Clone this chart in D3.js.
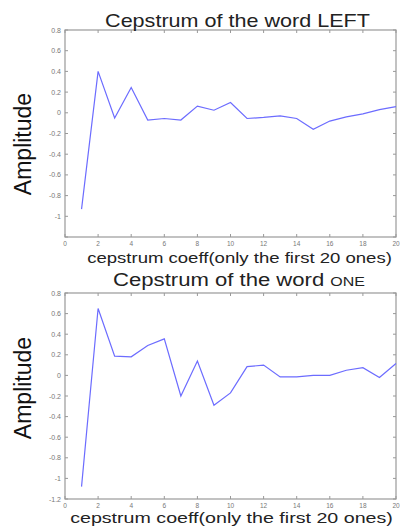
<html>
<script src="https://d3js.org/d3.v7.min.js"></script>
<style>
body { margin: 0; background: white; }
text { font-family: 'Liberation Sans', Arial, sans-serif; }
</style>
<body>
<svg width="401" height="526"></svg>
<script>
// cepstrum coefficients 1..20
const coeffs = d3.range(1, 21);
const leftValues = [-0.93, 0.40, -0.05, 0.245, -0.07, -0.055, -0.07, 0.065, 0.025, 0.10,
                    -0.055, -0.045, -0.03, -0.055, -0.16, -0.08, -0.04, -0.01, 0.03, 0.06];
const oneValues = [-1.08, 0.65, 0.187, 0.18, 0.29, 0.355, -0.20, 0.14, -0.29, -0.17,
                   0.085, 0.10, -0.015, -0.015, 0.0, 0.0, 0.05, 0.075, -0.02, 0.115];
const xTicks = d3.range(0, 21, 2);
const yTicks = [0.8, 0.6, 0.4, 0.2, 0, -0.2, -0.4, -0.6, -0.8, -1, -1.2];

const svg = d3.select("svg");

// stretch a text horizontally so it spans a given width around cx
function fitWidth(sel, cx, baseline, width) {
  const w = sel.node().getComputedTextLength();
  sel.attr("x", 0).attr("y", 0)
    .attr("transform", `translate(${cx},${baseline}) scale(${width / w},1)`);
}

function panel(top, bottom, values, word, opt) {
  const left = 65, right = 396;
  const x = d3.scaleLinear().domain([0, 20]).range([left, right]);
  const y = d3.scaleLinear().domain([-1.2, 0.8]).range([bottom, top]);
  const g = svg.append("g");

  // box with inward ticks on every side
  g.append("rect")
    .attr("x", left).attr("y", top)
    .attr("width", right - left).attr("height", bottom - top)
    .attr("fill", "white").attr("stroke", "#999").attr("stroke-width", 1.2);

  xTicks.forEach(t => {
    g.append("line").attr("x1", x(t)).attr("x2", x(t)).attr("y1", bottom).attr("y2", bottom - 3)
      .attr("stroke", "#999");
    g.append("line").attr("x1", x(t)).attr("x2", x(t)).attr("y1", top).attr("y2", top + 3)
      .attr("stroke", "#999");
    g.append("text").attr("x", x(t)).attr("y", opt.tickY)
      .attr("text-anchor", "middle").style("font-size", "6.5px").style("fill", "#777")
      .text(t);
  });
  yTicks.forEach(t => {
    g.append("line").attr("x1", left).attr("x2", left + 3).attr("y1", y(t)).attr("y2", y(t))
      .attr("stroke", "#999");
    g.append("line").attr("x1", right).attr("x2", right - 3).attr("y1", y(t)).attr("y2", y(t))
      .attr("stroke", "#999");
    if (t === -1.2 && !opt.showLow) return;
    g.append("text").attr("x", left - 4).attr("y", y(t) + 2.5)
      .attr("text-anchor", "end").style("font-size", "7px").style("fill", "#777")
      .text(t);
  });

  const line = d3.line().x((d, i) => x(coeffs[i])).y(d => y(d));
  g.append("path").datum(values)
    .attr("d", line).attr("fill", "none")
    .attr("stroke", "#6c6cff").attr("stroke-width", 1.2);

  const title = g.append("text")
    .attr("text-anchor", "middle").style("font-size", "18px").style("fill", "#222");
  title.append("tspan").text("Cepstrum of the word ");
  title.append("tspan").style("font-size", word === "ONE" ? "13px" : "18px").text(word);
  fitWidth(title, opt.titleX, opt.titleY, opt.titleW);

  const xl = g.append("text")
    .attr("text-anchor", "middle").style("font-size", "15px").style("fill", "#222")
    .text("cepstrum coeff(only the first 20 ones)");
  fitWidth(xl, opt.labelX, opt.labelY, opt.labelW);

  g.append("text")
    .attr("transform", `translate(31,${opt.ampY}) rotate(-90)`)
    .attr("text-anchor", "middle").style("font-size", "23px").style("fill", "#111")
    .text("Amplitude");
}

panel(30, 237, leftValues, "LEFT", {
  titleX: 237.5, titleY: 26.5, titleW: 265,
  labelX: 239.5, labelY: 262.5, labelW: 305,
  tickY: 246, ampY: 144, showLow: false
});
panel(293, 499, oneValues, "ONE", {
  titleX: 239, titleY: 286, titleW: 252,
  labelX: 231.5, labelY: 523, labelW: 323,
  tickY: 508, ampY: 388, showLow: true
});
</script>
</body>
</html>
